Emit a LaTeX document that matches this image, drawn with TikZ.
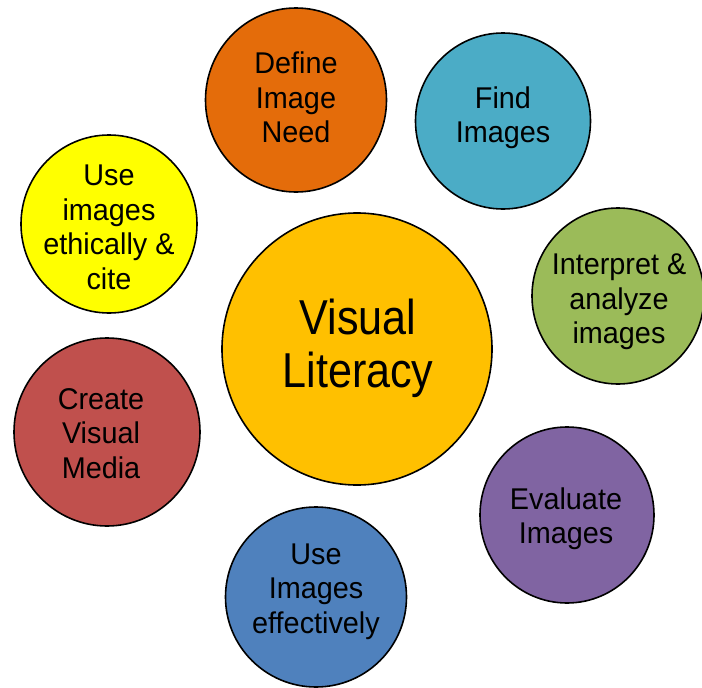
\documentclass[tikz,border=0pt]{standalone}
\usepackage{fontspec}
\newfontfamily\bubblefont[FakeStretch=0.96]{Liberation Sans}
\newfontfamily\corefont[FakeStretch=0.88]{Liberation Sans}
\usetikzlibrary{shapes.geometric}
\definecolor{cOrange}{HTML}{E46C0A}
\definecolor{cTeal}{HTML}{4BACC6}
\definecolor{cYellow}{HTML}{FFFF00}
\definecolor{cGold}{HTML}{FFC000}
\definecolor{cGreen}{HTML}{9BBB59}
\definecolor{cRed}{HTML}{C0504D}
\definecolor{cPurple}{HTML}{8064A2}
\definecolor{cBlue}{HTML}{4F81BD}
\tikzset{
  bubble/.style={ellipse, draw=black, line width=1.6pt, inner sep=0pt},
  lbl/.style={align=center, inner sep=0pt, text=black,
    font=\bubblefont\fontsize{30}{34.5}\selectfont},
  biglbl/.style={align=center, inner sep=0pt, text=black,
    font=\corefont\fontsize{49}{53}\selectfont}
}
\begin{document}
\begin{tikzpicture}[x=1pt,y=-1pt]
\useasboundingbox (0,0) rectangle (702,688);
% outer ring of skills
\node[bubble, fill=cOrange, minimum width=181pt, minimum height=184pt] (define) at (296,100) {};
\node[bubble, fill=cTeal, minimum width=175pt, minimum height=176pt] (find) at (503,121) {};
\node[bubble, fill=cYellow, minimum width=176pt, minimum height=178pt] (ethic) at (109,224) {};
\node[bubble, fill=cGreen, minimum width=172pt, minimum height=176pt] (interp) at (618,296) {};
\node[bubble, fill=cRed, minimum width=186pt, minimum height=188pt] (create) at (107,432) {};
\node[bubble, fill=cPurple, minimum width=174pt, minimum height=176pt] (eval) at (567,515) {};
\node[bubble, fill=cBlue, minimum width=181pt, minimum height=180pt] (useeff) at (316,597) {};
% central topic
\node[bubble, fill=cGold, minimum width=270pt, minimum height=272pt] (core) at (357,349) {};
% labels
\node[lbl] (defineT) at (296,97.5) {Define\\Image\\Need};
\node[lbl] (findT) at (503,117.5) {Find\\Images};
\node[lbl] (ethicT) at (109,227.5) {Use\\images\\ethically \&\\cite};
\node[lbl] (interpT) at (619,302) {Interpret \&\\analyze\\images};
\node[lbl] (createT) at (101,433.5) {Create\\Visual\\Media};
\node[lbl] (evalT) at (566,518.5) {Evaluate\\Images};
\node[lbl] (useeffT) at (316,591.5) {Use\\Images\\effectively};
\node[biglbl] (coreT) at (358,348) {Visual\\Literacy};
\end{tikzpicture}
\end{document}
